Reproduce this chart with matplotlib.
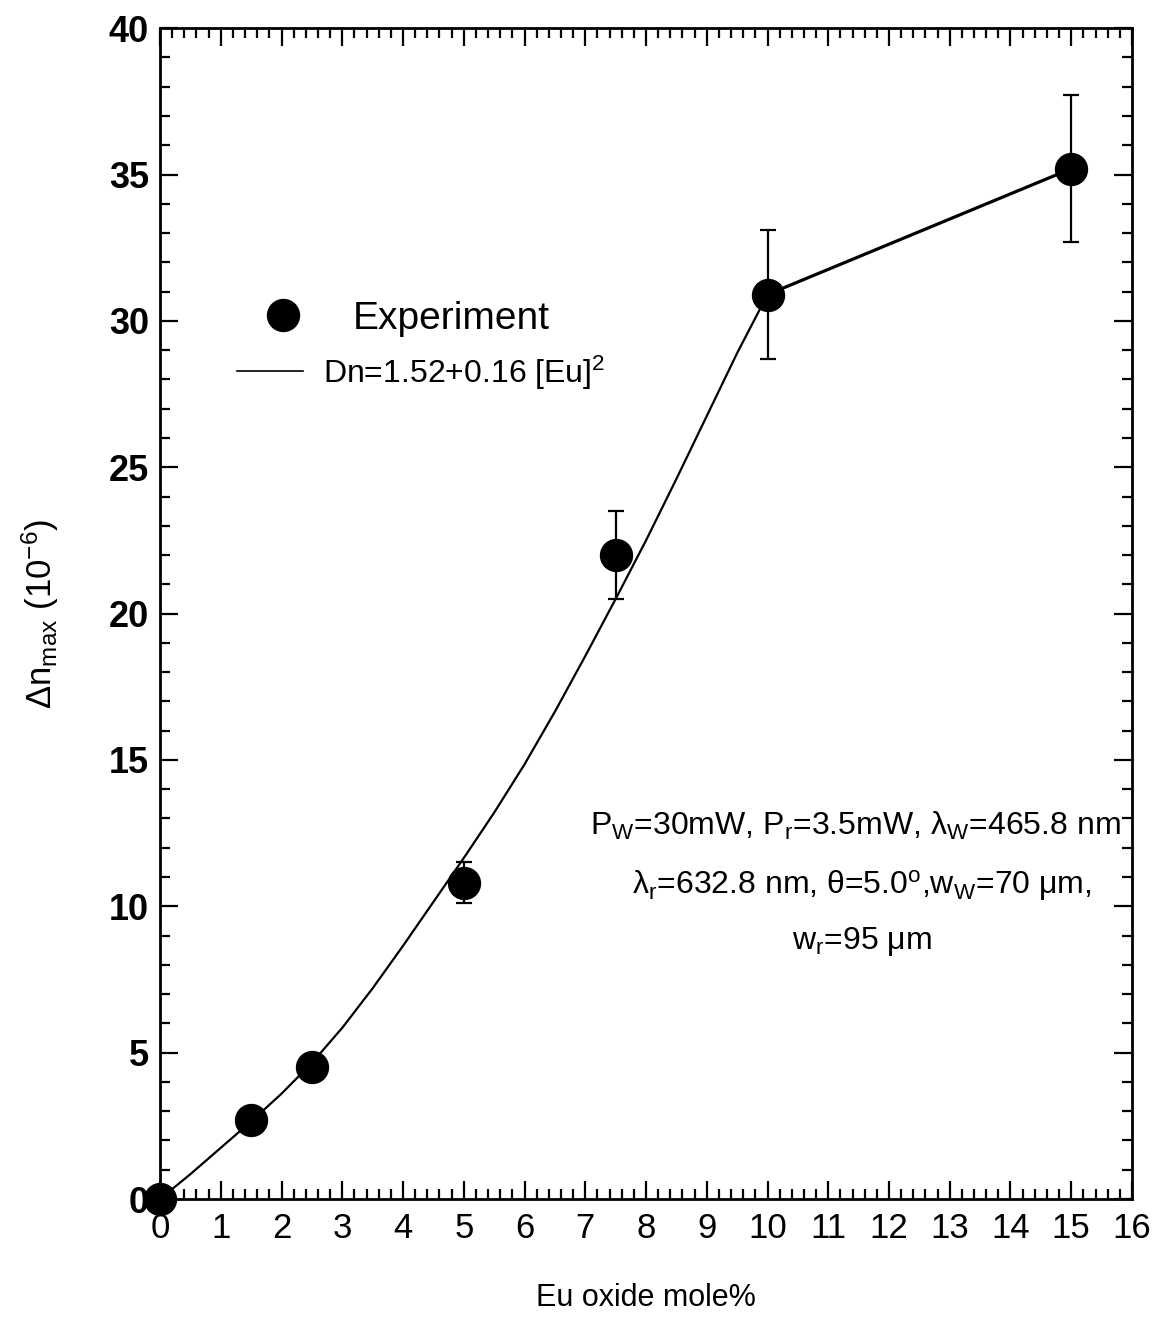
import matplotlib
matplotlib.use('Agg')
import matplotlib.pyplot as plt
from matplotlib.ticker import MultipleLocator
from matplotlib.lines import Line2D

plt.rcParams['font.family'] = ['Liberation Sans', 'DejaVu Sans']
plt.rcParams['mathtext.fontset'] = 'custom'
plt.rcParams['mathtext.rm'] = 'Liberation Sans'
plt.rcParams['mathtext.it'] = 'Liberation Sans'

# Experiment points (Eu oxide mole%, dn_max in 1e-6) with error bars
eu_mole = [0, 1.5, 2.5, 5, 7.5, 10, 15]
dn_max = [0, 2.7, 4.5, 10.8, 22.0, 30.9, 35.2]
dn_err = [0, 0, 0, 0.7, 1.5, 2.2, 2.5]

# fit curve
fit_x = [0, 0.5, 1, 1.5, 2, 2.5, 3, 3.5, 4, 4.5, 5, 5.5, 6, 6.5, 7, 7.5, 8, 8.5, 9, 9.5, 10]
fit_y = [0, 0.85, 1.75, 2.65, 3.6, 4.65, 5.85, 7.2, 8.65, 10.15, 11.65, 13.2, 14.85, 16.65, 18.55, 20.5, 22.5, 24.6, 26.75, 28.9, 30.9]
# straight segment to last point
seg_x = [10, 15]
seg_y = [30.9, 35.2]

fig = plt.figure(figsize=(11.64, 13.29), dpi=100)
ax = fig.add_axes([0.1375, 0.0978, 0.835, 0.881])

ax.plot(fit_x, fit_y, color='black', lw=1.6, zorder=2)
ax.plot(seg_x, seg_y, color='black', lw=2.3, zorder=2)
ax.errorbar(eu_mole, dn_max, yerr=dn_err, fmt='none', ecolor='black', elinewidth=1.6,
            capsize=6, capthick=1.6, zorder=3)
ax.plot(eu_mole, dn_max, 'o', color='black', markersize=23, zorder=4, clip_on=False)

ax.set_xlim(0, 16)
ax.set_ylim(0, 40)
ax.xaxis.set_major_locator(MultipleLocator(1))
ax.xaxis.set_minor_locator(MultipleLocator(0.2))
ax.yaxis.set_major_locator(MultipleLocator(5))
ax.yaxis.set_minor_locator(MultipleLocator(1))
ax.tick_params(which='both', direction='in', top=True, right=True, width=1.6)
ax.tick_params(which='major', length=13)
ax.tick_params(which='minor', length=7)
ax.tick_params(axis='x', labelsize=25, pad=9)
ax.tick_params(axis='y', labelsize=26, pad=8)
for lab in ax.get_yticklabels():
    lab.set_fontweight('bold')
for sp in ax.spines.values():
    sp.set_linewidth(2)

ax.set_xlabel('Eu oxide mole%', fontsize=22, labelpad=28)
ax.set_ylabel(r'$\Delta$n$_{\mathrm{max}}$ (10$^{-6}$)', fontsize=25, labelpad=34)

# legend, two entries placed separately
h1 = Line2D([], [], marker='o', color='black', ls='none', markersize=23)
h2 = Line2D([], [], color='black', lw=1.2)
leg1 = ax.legend([h1], ['Experiment'], loc='center left', bbox_to_anchor=(0.1065, 0.752),
                 frameon=False, fontsize=28, handlelength=1.0, handletextpad=1.3,
                 borderpad=0, borderaxespad=0)
ax.add_artist(leg1)
ax.legend([h2], [r'Dn=1.52+0.16 [Eu]$^{2}$'], loc='center left', bbox_to_anchor=(0.0792, 0.706),
          frameon=False, fontsize=23, handlelength=2.07, handletextpad=0.63,
          borderpad=0, borderaxespad=0)

# experimental conditions
ax.text(11.45, 12.75, r'P$_{\mathrm{W}}$=30mW, P$_{\mathrm{r}}$=3.5mW, λ$_{\mathrm{W}}$=465.8 nm',
        fontsize=23, ha='center', va='center')
ax.text(11.55, 10.7, r'λ$_{\mathrm{r}}$=632.8 nm, θ=5.0$^{\mathrm{o}}$,w$_{\mathrm{W}}$=70 μm,',
        fontsize=23, ha='center', va='center')
ax.text(11.55, 8.8, r'w$_{\mathrm{r}}$=95 μm', fontsize=23, ha='center', va='center')

fig.savefig('out.png', dpi=100)
